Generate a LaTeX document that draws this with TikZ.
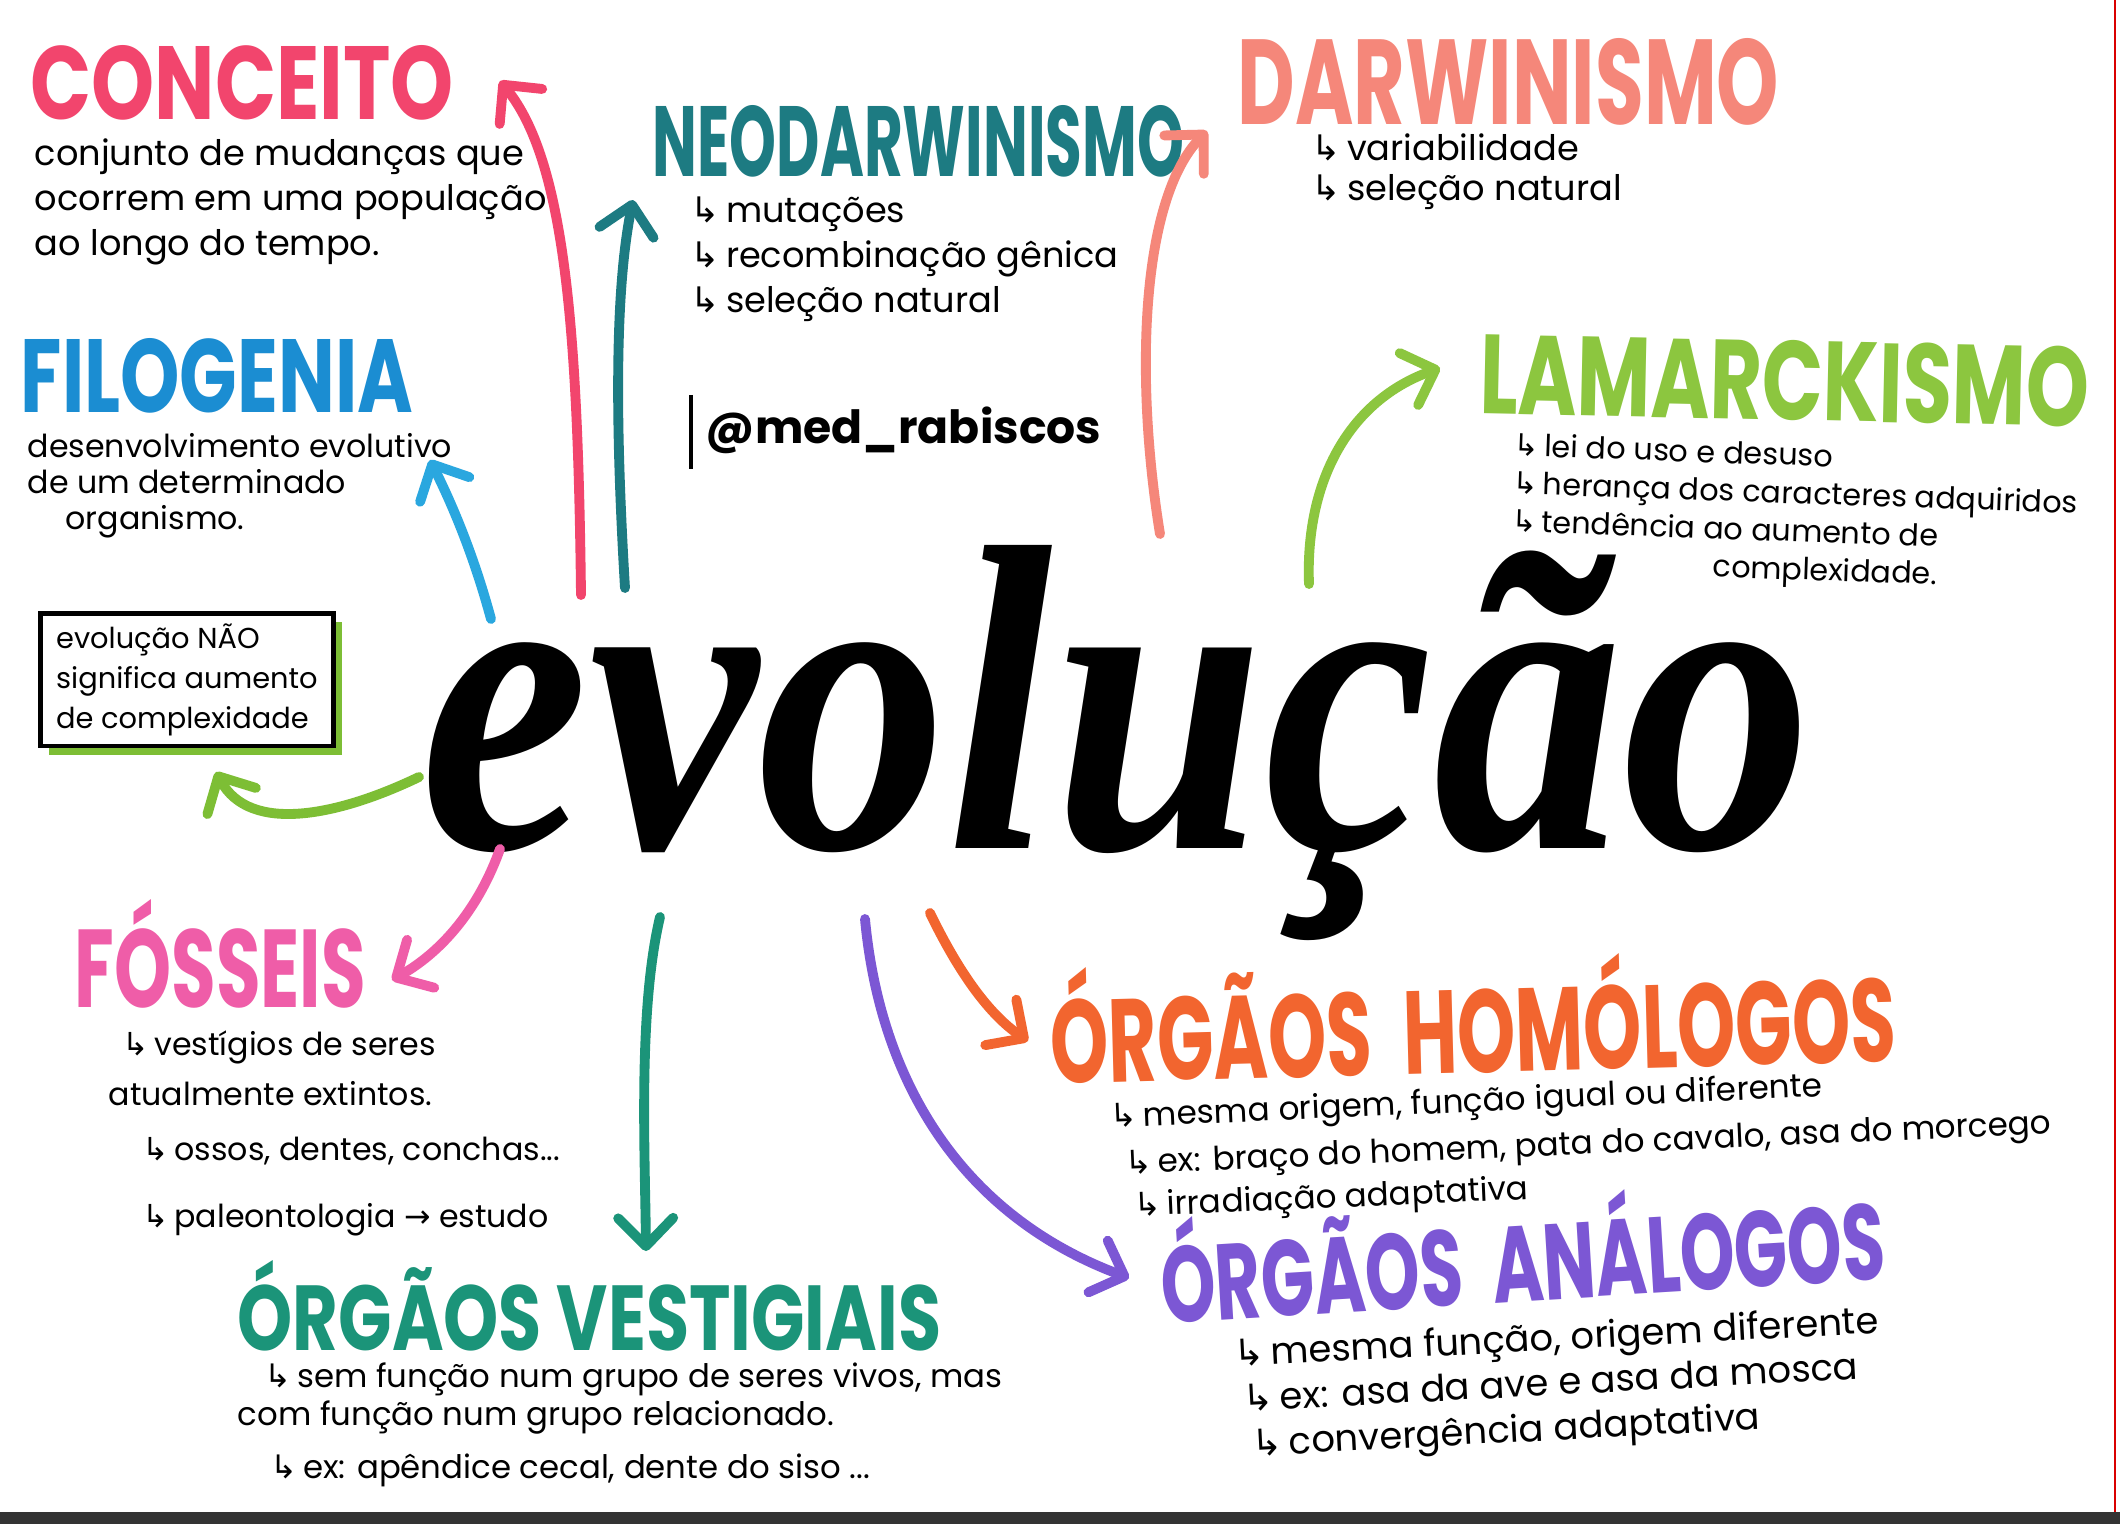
\documentclass[tikz,border=0pt]{standalone}
\usepackage{fontspec}
\setmainfont{Poppins}
\newfontfamily\arrowfont{DejaVu Sans}
\newfontfamily\evofont{Liberation Serif}
\usepackage{graphicx}
\usetikzlibrary{arrows.meta,shadows}
\definecolor{ConceitoRed}{HTML}{F2456D}
\definecolor{NeoTeal}{HTML}{1D7B82}
\definecolor{DarwinSalmon}{HTML}{F5877A}
\definecolor{FiloBlue}{HTML}{1B8DD2}
\definecolor{FiloArrow}{HTML}{2AA7DF}
\definecolor{LamarckGreen}{HTML}{8CC63F}
\definecolor{BoxGreen}{HTML}{7DBE35}
\definecolor{FossilPink}{HTML}{EF5DA8}
\definecolor{VestTeal}{HTML}{1B9479}
\definecolor{HomoOrange}{HTML}{F2652F}
\definecolor{AnaPurple}{HTML}{7C57D4}
\newcommand{\headword}[3]{\resizebox{#1}{#2}{\bfseries #3}}
\newcommand{\seta}{{\arrowfont ↳}\,}

\begin{document}
\begin{tikzpicture}[x=0.01cm,y=-0.01cm,
    ttl/.style={anchor=north west,inner sep=0pt},
    txt/.style={anchor=north west,inner sep=0pt,align=left,text=black},
    pen/.style={line width=2.8pt,line cap=round,
      -{Straight Barb[length=0.28cm,width=0.55cm,line width=2.8pt,round]}}]
  \useasboundingbox (0,0) rectangle (2120,1524);
  \fill[white] (0,0) rectangle (2120,1524);
  \fill[black!80] (0,1512) rectangle (2120,1524);
  \draw[red!85!black,line width=0.8pt] (2115,0) -- (2115,1512);

  % central word
  \node[anchor=north west,inner sep=0pt] (evo) at (420,545)
    {\resizebox*{13.9cm}{3.95cm}{\evofont\bfseries\itshape evolução}};

  % headings
  \node[ttl,text=ConceitoRed] (conceito) at (30,45) {\headword{4.23cm}{0.74cm}{CONCEITO}};
  \node[ttl,text=NeoTeal] (neo) at (652,105) {\headword{5.31cm}{0.71cm}{NEODARWINISMO}};
  \node[ttl,text=DarwinSalmon] (darwin) at (1237,38) {\headword{5.41cm}{0.86cm}{DARWINISMO}};
  \node[ttl,text=FiloBlue] (filo) at (20,338) {\headword{3.92cm}{0.74cm}{FILOGENIA}};
  \node[ttl,text=LamarckGreen,rotate=-1.2] (lamarck) at (1480,333) {\headword{6.09cm}{0.8cm}{LAMARCKISMO}};
  \node[ttl,text=FossilPink] (fosseis) at (74,899) {\headword{2.91cm}{1.08cm}{FÓSSEIS}};
  \node[ttl,text=VestTeal] (vest) at (237,1260) {\headword{7.03cm}{0.9cm}{ÓRGÃOS VESTIGIAIS}};
  \node[ttl,text=HomoOrange,rotate=1.5] (homo) at (1048,968) {\headword{8.45cm}{1.15cm}{ÓRGÃOS\ \ HOMÓLOGOS}};
  \node[ttl,text=AnaPurple,rotate=3.5] (ana) at (1156,1218) {\headword{7.25cm}{1.05cm}{ÓRGÃOS\ \ ANÁLOGOS}};

  % texts
  \node[txt,font=\fontsize{10}{12.8}\selectfont] (conceitoTxt) at (34,138)
    {conjunto de mudanças que\\ocorrem em uma população\\ao longo do tempo.};
  \node[txt,font=\fontsize{10}{12.8}\selectfont] (neoTxt) at (690,196)
    {\seta mutações\\\seta recombinação gênica\\\seta seleção natural};
  \node[txt,font=\fontsize{10}{11.4}\selectfont] (darwinTxt) at (1311,133)
    {\seta variabilidade\\\seta seleção natural};
  \node[txt,font=\fontsize{9}{10.2}\selectfont] (filoTxt) at (27,433)
    {desenvolvimento evolutivo\\de um determinado\\\hspace*{0.38cm}organismo.};
  \node[txt,font=\fontsize{8.6}{10.8}\selectfont,rotate=-2] (lamarckTxt) at (1514,432)
    {\seta lei do uso e desuso\\\seta herança dos caracteres adquiridos\\\seta tendência ao aumento de\\\hspace*{2.03cm}complexidade.};
  \node[txt,font=\fontsize{9}{14.2}\selectfont] (fosseisTxt) at (108,1030)
    {\hspace*{0.14cm}\seta vestígios de seres\\atualmente extintos.\\[1.4pt]\hspace*{0.34cm}\seta ossos, dentes, conchas...\\[4.8pt]\hspace*{0.34cm}\seta paleontologia {\arrowfont →} estudo};
  \node[txt,font=\fontsize{9.2}{10.8}\selectfont] (vestTxt) at (237,1362)
    {\hspace*{0.27cm}\seta sem função num grupo de seres vivos, mas\\com função num grupo relacionado.\\[4.2pt]\hspace*{0.33cm}\seta ex: apêndice cecal, dente do siso ...};
  \node[txt,font=\fontsize{9.3}{12.1}\selectfont,rotate=2.5] (homoTxt) at (1109,1102)
    {\seta mesma origem, função igual ou diferente\\[1.3pt]\hspace*{0.13cm}\seta ex: braço do homem, pata do cavalo, asa do morcego\\\hspace*{0.2cm}\seta irradiação adaptativa};
  \node[txt,font=\fontsize{10.5}{12.8}\selectfont,rotate=3] (anaTxt) at (1232,1338)
    {\seta mesma função, origem diferente\\\hspace*{0.07cm}\seta ex: asa da ave e asa da mosca\\\hspace*{0.14cm}\seta convergência adaptativa};

  % note box
  \node[draw=black,line width=1.3pt,fill=white,anchor=north west,minimum width=2.93cm,
    minimum height=1.26cm,inner sep=3pt,align=left,font=\fontsize{8.2}{11.3}\selectfont,
    drop shadow={shadow xshift=0.09cm,shadow yshift=-0.09cm,fill=BoxGreen,opacity=1}]
    (aviso) at (38,611) {evolução NÃO\\significa aumento\\de complexidade};

  % handle
  \node[anchor=west,inner sep=0pt,font=\bfseries\fontsize{13}{13}\selectfont] (insta) at (705,430) {@med\_rabiscos};
  \draw[line width=1pt] ([xshift=-0.14cm,yshift=0.35cm]insta.west) -- ([xshift=-0.14cm,yshift=-0.39cm]insta.west);

  % arrow ends
  \coordinate (sConceito) at (581,595);  \coordinate (tConceito) at (500,81);
  \coordinate (sNeo) at (625,588);       \coordinate (tNeo) at (633,200);
  \coordinate (sFilo) at (491,619);      \coordinate (tFilo) at (430,460);
  \coordinate (sDarwin) at (1160,534);   \coordinate (tDarwin) at (1207,131);
  \coordinate (sLamarck) at (1309,584);  \coordinate (tLamarck) at (1440,368);
  \coordinate (sAviso) at (419,777);     \coordinate (tAviso) at (216,772);
  \coordinate (sFosseis) at (500,849);   \coordinate (tFosseis) at (392,980);
  \coordinate (sVest) at (660,917);      \coordinate (tVest) at (646,1251);
  \coordinate (sHomo) at (930,913);      \coordinate (tHomo) at (1028,1041);
  \coordinate (sAna) at (865,919);       \coordinate (tAna) at (1129,1278);

  % arrows
  \draw[pen,ConceitoRed] (sConceito) .. controls (578,330) and (565,160) .. (tConceito);
  \draw[pen,NeoTeal] (sNeo) .. controls (615,420) and (615,290) .. (tNeo);
  \draw[pen,FiloArrow] (sFilo) .. controls (475,560) and (455,510) .. (tFilo);
  \draw[pen,DarwinSalmon] (sDarwin) .. controls (1135,380) and (1140,200) .. (tDarwin);
  \draw[pen,LamarckGreen] (sLamarck) .. controls (1305,480) and (1350,400) .. (tLamarck);
  \draw[pen,BoxGreen] (sAviso) .. controls (340,815) and (250,835) .. (tAviso);
  \draw[pen,FossilPink] (sFosseis) .. controls (480,905) and (445,950) .. (tFosseis);
  \draw[pen,VestTeal] (sVest) .. controls (638,1010) and (645,1150) .. (tVest);
  \draw[pen,HomoOrange] (sHomo) .. controls (960,975) and (990,1015) .. (tHomo);
  \draw[pen,AnaPurple] (sAna) .. controls (880,1080) and (960,1215) .. (tAna);
\end{tikzpicture}
\end{document}
